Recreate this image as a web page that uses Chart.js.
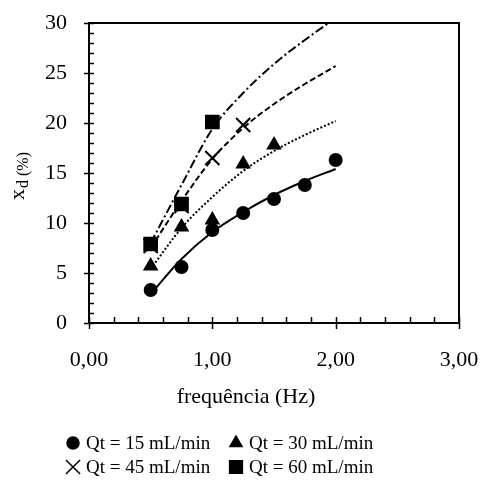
<!DOCTYPE html>
<html>
<head>
<meta charset="utf-8">
<script src="https://cdn.jsdelivr.net/npm/chart.js@4.4.0/dist/chart.umd.min.js"></script>
<style>
  html, body { margin: 0; padding: 0; background: #fff; }
  #wrap { width: 484px; height: 482px; }
</style>
</head>
<body>
<div id="wrap"><canvas id="c" width="484" height="482"></canvas></div>
<script>
// measured points (frequency in Hz, xd in %)
const freq15 = [0.5, 0.75, 1.0, 1.25, 1.5, 1.75, 2.0];
const qt15 = [3.3, 5.6, 9.3, 11.0, 12.4, 13.8, 16.3];
const freq30 = [0.5, 0.75, 1.0, 1.25, 1.5];
const qt30 = [5.7, 9.6, 10.3, 15.9, 17.8];
const freq45 = [0.5, 0.75, 1.0, 1.25];
const qt45 = [7.7, 11.7, 16.5, 19.8];
const freq60 = [0.5, 0.75, 1.0];
const qt60 = [7.9, 11.9, 20.1];

// trend curves
const fitX = [0.5, 0.75, 1.0, 1.25, 1.5, 1.75, 2.0];
const fit15 = [2.9, 6.4, 9.1, 11.1, 12.8, 14.2, 15.4];
const fit30 = [5.4, 9.5, 12.6, 15.2, 17.2, 18.8, 20.2];
const fit45 = [7.5, 12.2, 16.4, 19.5, 21.9, 23.9, 25.7];
const fit60 = [8.0, 13.8, 19.4, 23.0, 25.9, 28.3, 30.5];

const legendLabels = ["Qt = 15 mL/min", "Qt = 30 mL/min", "Qt = 45 mL/min", "Qt = 60 mL/min"];
const xTicks = [0, 1, 2, 3];
const xTitle = 'frequência (Hz)';

const serif = "'Liberation Serif', 'Times New Roman', serif";

function pts(xs, ys) {
  return xs.map((x, i) => ({ x: x, y: ys[i] }));
}

function scatterSet(label, xs, ys, style, r) {
  return {
    type: 'scatter', label: label, data: pts(xs, ys),
    pointStyle: style, pointRadius: r, pointHoverRadius: r,
    backgroundColor: '#000', borderColor: '#000', borderWidth: 2
  };
}

function fitSet(ys, dash) {
  return {
    type: 'line', label: '', data: pts(fitX, ys),
    borderColor: '#000', borderWidth: 2, borderDash: dash,
    pointRadius: 0, cubicInterpolationMode: 'monotone', fill: false
  };
}

// box, inner ticks, axis titles and legend
const decor = {
  id: 'decor',
  afterDraw(chart) {
    const ctx = chart.ctx;
    const a = chart.chartArea;
    const xs = chart.scales.x, ys = chart.scales.y;
    ctx.save();
    ctx.strokeStyle = '#000';
    ctx.lineWidth = 2;
    ctx.strokeRect(a.left, a.top, a.right - a.left, a.bottom - a.top);

    ctx.lineWidth = 1.5;
    ctx.beginPath();
    for (let v = 0; v <= 30; v++) {
      const y = Math.round(ys.getPixelForValue(v)) + 0.5;
      const out = v % 5 === 0 ? 5 : 0;
      ctx.moveTo(a.left - out, y);
      ctx.lineTo(a.left + 5, y);
    }
    for (let i = 0; i <= 15; i++) {
      const v = i * 0.2;
      const x = Math.round(xs.getPixelForValue(v)) + 0.5;
      const out = i % 5 === 0 ? 6 : 0;
      ctx.moveTo(x, a.bottom + out);
      ctx.lineTo(x, a.bottom - 6);
    }
    ctx.stroke();

    ctx.fillStyle = '#000';

    // x axis title (sits a bit left of the plot centre in the original)
    ctx.font = '22px ' + serif;
    ctx.textAlign = 'center';
    ctx.textBaseline = 'middle';
    ctx.fillText(xTitle, 246, 397);

    // y axis title: x with subscript d (%)
    ctx.save();
    ctx.translate(24, 200);
    ctx.rotate(-Math.PI / 2);
    ctx.textBaseline = 'alphabetic';
    ctx.textAlign = 'left';
    ctx.font = '22px ' + serif;
    ctx.fillText('x', 0, 0);
    const w = ctx.measureText('x').width;
    ctx.font = '16px ' + serif;
    ctx.fillText('d (%)', w + 1, 4);
    ctx.restore();

    // legend, two per row
    const cells = [[73, 443], [236, 443], [73, 467], [236, 467]];
    const sets = chart.data.datasets.slice(0, 4);
    ctx.font = '19px ' + serif;
    ctx.textBaseline = 'middle';
    ctx.textAlign = 'left';
    sets.forEach((ds, i) => {
      const [cx, cy] = cells[i];
      Chart.helpers.drawPoint(ctx, {
        pointStyle: ds.pointStyle, radius: ds.pointRadius, borderWidth: 2
      }, cx, cy);
      ctx.fillStyle = '#000';
      ctx.fillText(legendLabels[i], cx + 13, cy + 1);
    });
    ctx.restore();
  }
};

new Chart(document.getElementById('c'), {
  data: {
    datasets: [
      scatterSet(legendLabels[0], freq15, qt15, 'circle', 6),
      scatterSet(legendLabels[1], freq30, qt30, 'triangle', 7),
      scatterSet(legendLabels[2], freq45, qt45, 'crossRot', 10),
      scatterSet(legendLabels[3], freq60, qt60, 'rect', 9),
      fitSet(fit15, []),
      fitSet(fit30, [2, 2]),
      fitSet(fit45, [6, 3]),
      fitSet(fit60, [9, 3, 2, 3])
    ]
  },
  options: {
    responsive: false,
    animation: false,
    events: [],
    layout: { padding: { top: 23, right: 25, bottom: 71, left: 0 } },
    plugins: { legend: { display: false }, tooltip: { enabled: false } },
    scales: {
      x: {
        type: 'linear', min: 0, max: 3,
        afterBuildTicks: s => { s.ticks = xTicks.map(v => ({ value: v })); },
        afterFit: s => { s.height = 88; s.paddingLeft = 0; s.paddingRight = 0; },
        grid: { display: false }, border: { display: false },
        ticks: {
          color: '#000', padding: 16, font: { family: serif, size: 22 },
          callback: v => v.toFixed(2).replace('.', ',')
        }
      },
      y: {
        min: 0, max: 30,
        afterFit: s => { s.width = 89; s.paddingTop = 0; s.paddingBottom = 0; },
        grid: { display: false }, border: { display: false },
        ticks: { stepSize: 5, color: '#000', padding: 14, font: { family: serif, size: 22 } }
      }
    }
  },
  plugins: [decor]
});
</script>
</body>
</html>
